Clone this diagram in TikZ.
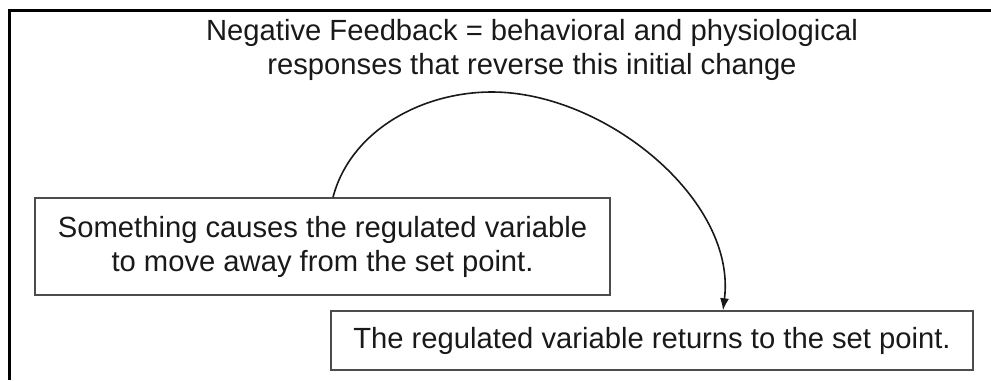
\documentclass[tikz,border=0pt]{standalone}
\usepackage{fontspec}
\setmainfont{Liberation Sans}
\usetikzlibrary{arrows.meta}

\begin{document}
\begin{tikzpicture}[x=1bp,y=-1bp]
        \tikzstyle{every node}=[font=\fontsize{29.2bp}{34bp}\selectfont,text=black!90,align=center,inner sep=0pt]
        \tikzstyle{stepbox}=[rectangle,draw=black!70,line width=1.4bp]
        \useasboundingbox (0,0) rectangle (991,380);
        \draw[line width=3bp] (9.5,380) -- (9.5,10.5) -- (991,10.5);
        \node (title) at (532,50) {Negative Feedback = behavioral and physiological\\responses that reverse this initial change};
        \node[stepbox,minimum width=575bp,minimum height=97bp] (cause) at (322.5,246.5) {Something causes the regulated variable\\to move away from the set point.};
        \node[stepbox,minimum width=642bp,minimum height=59bp] (back) at (652,340.5) {The regulated variable returns to the set point.};
        \coordinate (peak) at (492,92);
        \draw[line width=1.6bp,black!90,-{Latex[length=12bp,width=9bp]}] ([xshift=10.5bp]cause.north) .. controls (350,132) and (420,92) .. (peak)
            .. controls (605,92) and (737,200) .. ([xshift=71bp]back.north);
\end{tikzpicture}
\end{document}
